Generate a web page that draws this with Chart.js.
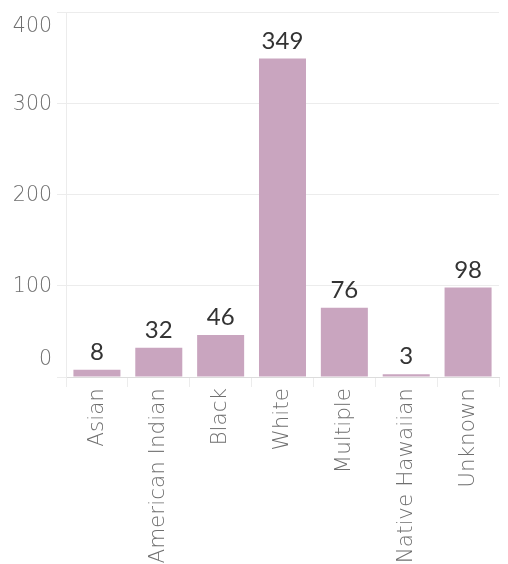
<!DOCTYPE html>
<html>
<head>
<meta charset="utf-8">
<script src="https://cdn.jsdelivr.net/npm/chart.js@4"></script>
<style>
  html, body { margin: 0; padding: 0; background: #fff; }
  #wrap { width: 508px; height: 564px; position: relative; }
</style>
</head>
<body>
<div id="wrap"><canvas id="raceChart"></canvas></div>
<script>
const categories = ['Asian', 'American Indian', 'Black', 'White', 'Multiple', 'Native Hawaiian', 'Unknown'];
const counts = [8, 32, 46, 349, 76, 3, 98];
const yTicks = [0, 100, 200, 300, 400];

const axisFont = '"DejaVu Sans", sans-serif';
const valueFont = 'Lato, "Open Sans", sans-serif';
const gridColor = '#ececec';
const labelGrey = '#6f6f6f';

// y labels drawn by hand so the end ones sit inside the plot like the original
const yLabelPlugin = {
    id: 'yLabels',
    afterDraw(chart) {
        const ctx = chart.ctx;
        const y = chart.scales.y;
        ctx.save();
        ctx.font = '200 20.5px ' + axisFont;
        ctx.fillStyle = labelGrey;
        ctx.textAlign = 'right';
        ctx.textBaseline = 'middle';
        yTicks.forEach(v => {
            let py = y.getPixelForValue(v);
            if (v === y.max) py += 15;
            else if (v === y.min) py -= 17;
            else py += 1;
            ctx.fillText(String(v), 52, py);
        });
        ctx.restore();
    }
};

const valueLabelPlugin = {
    id: 'valueLabels',
    afterDatasetsDraw(chart) {
        const ctx = chart.ctx;
        const meta = chart.getDatasetMeta(0);
        ctx.save();
        ctx.font = '24px ' + valueFont;
        ctx.fillStyle = '#333333';
        ctx.textAlign = 'center';
        ctx.textBaseline = 'alphabetic';
        meta.data.forEach((bar, i) => {
            ctx.fillText(String(counts[i]), bar.x, bar.y - 10);
        });
        ctx.restore();
    }
};

new Chart(document.getElementById('raceChart').getContext('2d'), {
    type: 'bar',
    data: {
        labels: categories,
        datasets: [{
            data: counts,
            backgroundColor: '#c9a5bf',
            borderWidth: 0,
            categoryPercentage: 1,
            barPercentage: 0.76
        }]
    },
    options: {
        responsive: true, maintainAspectRatio: false,
        animation: false,
        layout: { padding: { top: 12, right: 9, left: 0, bottom: 0 } },
        plugins: { legend: { display: false }, tooltip: { enabled: false } },
        scales: {
            x: {
                grid: { display: true, drawOnChartArea: false, offset: true, tickLength: 10, color: gridColor },
                border: { display: true, color: '#dcdcdc', dash: [2, 2] },
                ticks: {
                    minRotation: 90, maxRotation: 90, autoSkip: false, padding: 1,
                    color: labelGrey, font: { family: axisFont, size: 21.5, weight: 200 }
                },
                afterFit: (scale) => { scale.height = 187; }
            },
            y: {
                min: 0, max: 400,
                ticks: { stepSize: 100, display: true, color: 'rgba(0,0,0,0)', font: { size: 1 } },
                grid: { color: gridColor, tickLength: 9 },
                border: { display: true, color: gridColor },
                afterFit: (scale) => { scale.width = 66; }
            }
        }
    },
    plugins: [yLabelPlugin, valueLabelPlugin]
});
</script>
</body>
</html>
